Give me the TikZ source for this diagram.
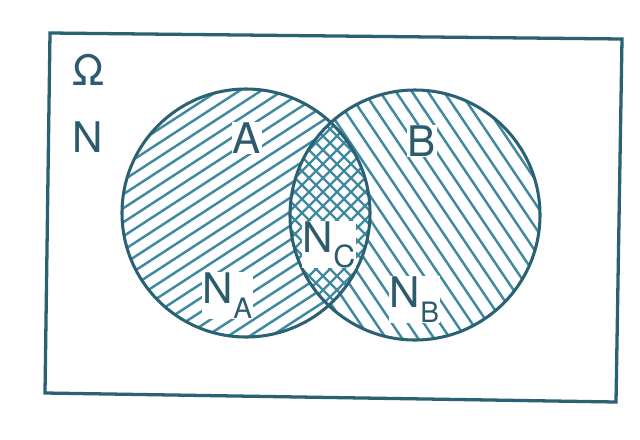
\documentclass[tikz,border=0pt]{standalone}
\usepackage{fontspec}
\setmainfont{TeX Gyre Heros}
\definecolor{edge}{HTML}{2A6173}
\definecolor{hatch}{HTML}{4089A1}
\definecolor{ink}{HTML}{2B5B6C}
\begin{document}
\begin{tikzpicture}[x=0.03cm,y=-0.03cm,
  outline/.style={draw=edge, line width=2.6pt},
  frame/.style={draw=edge, line width=2.8pt, line join=miter},
  hatchline/.style={draw=hatch, line width=2.1pt},
  lab/.style={text=ink, font=\fontsize{36}{40}\selectfont, inner sep=0.5pt},
  cleared/.style={lab, fill=white}]
\useasboundingbox (0,0) rectangle (640,439);
\fill[white] (0,0) rectangle (640,439);
\coordinate (cA) at (246,213);
\coordinate (cB) at (415,215);
% hatching of A
\begin{scope}
  \clip (cA) circle[radius=124];
  \foreach \c in {-280,-266,...,280}
    \draw[hatchline] ({96},{310+\c}) -- ({396},{115+\c});
\end{scope}
% hatching of B
\begin{scope}
  \clip (cB) circle[radius=125];
  \foreach \c in {-320,-304,...,320}
    \draw[hatchline] ({314+\c},{65}) -- ({516+\c},{365});
\end{scope}
% cross hatching of the intersection
\begin{scope}
  \clip (cA) circle[radius=124];
  \clip (cB) circle[radius=125];
  \fill[white] (250,80) rectangle (400,340);
  \foreach \c in {-196,-182,...,196} {
    \draw[hatchline] ({210+\c},{93}) -- ({450+\c},{333});
    \draw[hatchline] ({450+\c},{93}) -- ({210+\c},{333});
  }
\end{scope}
% outlines
\draw[outline] (cA) circle[radius=124];
\draw[outline] (cB) circle[radius=125];
\coordinate (tl) at (50,33);
\coordinate (tr) at (622,39);
\coordinate (br) at (616,402);
\coordinate (bl) at (45,393);
\draw[frame] (tl) -- (tr) -- (br) -- (bl) -- cycle;
% labels
\node[lab] (omega) at (89,70) {Ω};
\node[lab] (nlab) at (88,137) {N};
\node[cleared] (alab) at (247,138) {A};
\node[cleared] (blab) at (422,141) {B};
\node[cleared, anchor=base west] (nalab) at (202,303)
  {N\raisebox{-13pt}{\fontsize{24}{24}\selectfont A}};
\node[cleared, anchor=base west] (nblab) at (389,307)
  {N\raisebox{-13pt}{\fontsize{24}{24}\selectfont B}};
\node[cleared, anchor=base west] (nclab) at (302,252)
  {N\raisebox{-13pt}{\fontsize{26}{26}\selectfont C}};
\end{tikzpicture}
\end{document}
